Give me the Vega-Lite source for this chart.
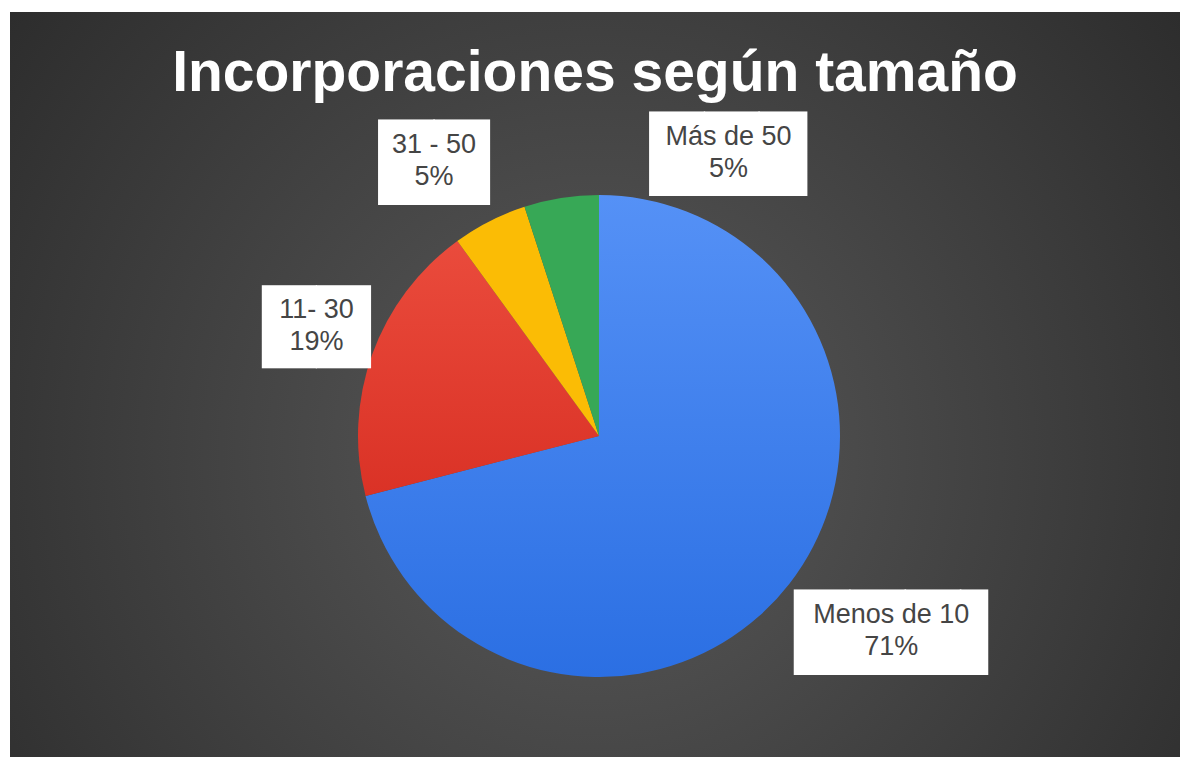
{
  "$schema": "https://vega.github.io/schema/vega-lite/v6.json",
  "width": 1180,
  "height": 757,
  "autosize": {"type": "fit", "contains": "padding"},
  "padding": {"left": 10, "top": 12, "right": 0, "bottom": 0},
  "background": "white",
  "config": {"view": {"stroke": null}},
  "title": {
    "text": "Incorporaciones según tamaño",
    "font": "Liberation Sans",
    "fontSize": 57,
    "fontWeight": "bold",
    "color": "white",
    "anchor": "middle",
    "offset": -91
  },
  "data": {
    "values": [
      {"cat": "Menos de 10", "value": 71, "orden": 1, "label": "Menos de 10\n71%"},
      {"cat": "11- 30", "value": 19, "orden": 2, "label": "11- 30\n19%"},
      {"cat": "31 - 50", "value": 5, "orden": 3, "label": "31 - 50\n5%"},
      {"cat": "Más de 50", "value": 5, "orden": 4, "label": "Más de 50\n5%"}
    ]
  },
  "layer": [
    {
      "data": {"values": [{"bg": 1}]},
      "mark": {
        "type": "rect",
        "fill": {
          "gradient": "radial",
          "x1": 0.5, "y1": 0.56, "r1": 0,
          "x2": 0.5, "y2": 0.56, "r2": 0.75,
          "stops": [
            {"offset": 0, "color": "#5a5a5a"},
            {"offset": 1, "color": "#242424"}
          ]
        }
      },
      "encoding": {}
    },
    {
      "mark": {"type": "arc", "radius": 241, "xOffset": 4, "yOffset": 51.5},
      "encoding": {
        "theta": {"field": "value", "type": "quantitative", "stack": true},
        "order": {"field": "orden", "type": "quantitative"},
        "fill": {
          "condition": [
            {"test": "datum.cat === 'Menos de 10'", "value": {"gradient": "linear", "x1": 0, "y1": 0, "x2": 0, "y2": 1, "stops": [{"offset": 0, "color": "#5591f6"}, {"offset": 1, "color": "#2b6fe3"}]}},
            {"test": "datum.cat === '11- 30'", "value": {"gradient": "linear", "x1": 0, "y1": 0, "x2": 0, "y2": 1, "stops": [{"offset": 0, "color": "#ea4b3c"}, {"offset": 1, "color": "#da3226"}]}}
          ],
          "field": "cat",
          "type": "nominal",
          "scale": {
            "domain": ["Menos de 10", "11- 30", "31 - 50", "Más de 50"],
            "range": ["#3b80f0", "#e2392b", "#fbbc05", "#37a856"]
          },
          "legend": null
        }
      }
    },
    {
      "mark": {"type": "text", "radius": 351, "thetaOffset": -0.073, "xOffset": -92.75, "yOffset": 56.5, "font": "DejaVu Sans", "fill": "white", "align": "left", "baseline": "middle"},
      "encoding": {
        "theta": {"field": "value", "type": "quantitative", "stack": true},
        "order": {"field": "orden", "type": "quantitative"},
        "size": {"condition": {"test": "datum.cat === 'Menos de 10'", "value": 72}, "value": 0},
        "text": {"condition": {"test": "datum.cat === 'Menos de 10'", "value": "███▌"}, "value": ""}
      }
    },
    {
      "mark": {"type": "text", "radius": 303.5, "thetaOffset": 0.029, "xOffset": -49.75, "yOffset": 56.5, "font": "DejaVu Sans", "fill": "white", "align": "left", "baseline": "middle"},
      "encoding": {
        "theta": {"field": "value", "type": "quantitative", "stack": true},
        "order": {"field": "orden", "type": "quantitative"},
        "size": {"condition": {"test": "datum.cat === '11- 30'", "value": 70}, "value": 0},
        "text": {"condition": {"test": "datum.cat === '11- 30'", "value": "██"}, "value": ""}
      }
    },
    {
      "mark": {"type": "text", "radius": 321.6, "thetaOffset": -0.0675, "xOffset": -51.3, "yOffset": 56.5, "font": "DejaVu Sans", "fill": "white", "align": "left", "baseline": "middle"},
      "encoding": {
        "theta": {"field": "value", "type": "quantitative", "stack": true},
        "order": {"field": "orden", "type": "quantitative"},
        "size": {"condition": {"test": "datum.cat === '31 - 50'", "value": 72}, "value": 0},
        "text": {"condition": {"test": "datum.cat === '31 - 50'", "value": "██"}, "value": ""}
      }
    },
    {
      "mark": {"type": "text", "radius": 311.7, "thetaOffset": 0.5856, "xOffset": -74.4, "yOffset": 56.5, "font": "DejaVu Sans", "fill": "white", "align": "left", "baseline": "middle"},
      "encoding": {
        "theta": {"field": "value", "type": "quantitative", "stack": true},
        "order": {"field": "orden", "type": "quantitative"},
        "size": {"condition": {"test": "datum.cat === 'Más de 50'", "value": 71}, "value": 0},
        "text": {"condition": {"test": "datum.cat === 'Más de 50'", "value": "██▉"}, "value": ""}
      }
    },
    {
      "mark": {"type": "text", "radius": 351, "thetaOffset": -0.073, "xOffset": 4, "yOffset": 36.5, "font": "Liberation Sans", "lineHeight": 32, "fill": "#454545", "align": "center", "baseline": "middle", "lineBreak": "\n"},
      "encoding": {
        "theta": {"field": "value", "type": "quantitative", "stack": true},
        "order": {"field": "orden", "type": "quantitative"},
        "size": {"condition": {"test": "datum.cat === 'Menos de 10'", "value": 27}, "value": 0},
        "text": {"condition": {"test": "datum.cat === 'Menos de 10'", "field": "label"}, "value": ""}
      }
    },
    {
      "mark": {"type": "text", "radius": 303.5, "thetaOffset": 0.029, "xOffset": 4, "yOffset": 36.5, "font": "Liberation Sans", "lineHeight": 32, "fill": "#454545", "align": "center", "baseline": "middle", "lineBreak": "\n"},
      "encoding": {
        "theta": {"field": "value", "type": "quantitative", "stack": true},
        "order": {"field": "orden", "type": "quantitative"},
        "size": {"condition": {"test": "datum.cat === '11- 30'", "value": 27}, "value": 0},
        "text": {"condition": {"test": "datum.cat === '11- 30'", "field": "label"}, "value": ""}
      }
    },
    {
      "mark": {"type": "text", "radius": 321.6, "thetaOffset": -0.0675, "xOffset": 4, "yOffset": 36.5, "font": "Liberation Sans", "lineHeight": 32, "fill": "#454545", "align": "center", "baseline": "middle", "lineBreak": "\n"},
      "encoding": {
        "theta": {"field": "value", "type": "quantitative", "stack": true},
        "order": {"field": "orden", "type": "quantitative"},
        "size": {"condition": {"test": "datum.cat === '31 - 50'", "value": 27}, "value": 0},
        "text": {"condition": {"test": "datum.cat === '31 - 50'", "field": "label"}, "value": ""}
      }
    },
    {
      "mark": {"type": "text", "radius": 311.7, "thetaOffset": 0.5856, "xOffset": 4, "yOffset": 36.5, "font": "Liberation Sans", "lineHeight": 32, "fill": "#454545", "align": "center", "baseline": "middle", "lineBreak": "\n"},
      "encoding": {
        "theta": {"field": "value", "type": "quantitative", "stack": true},
        "order": {"field": "orden", "type": "quantitative"},
        "size": {"condition": {"test": "datum.cat === 'Más de 50'", "value": 27}, "value": 0},
        "text": {"condition": {"test": "datum.cat === 'Más de 50'", "field": "label"}, "value": ""}
      }
    }
  ]
}
